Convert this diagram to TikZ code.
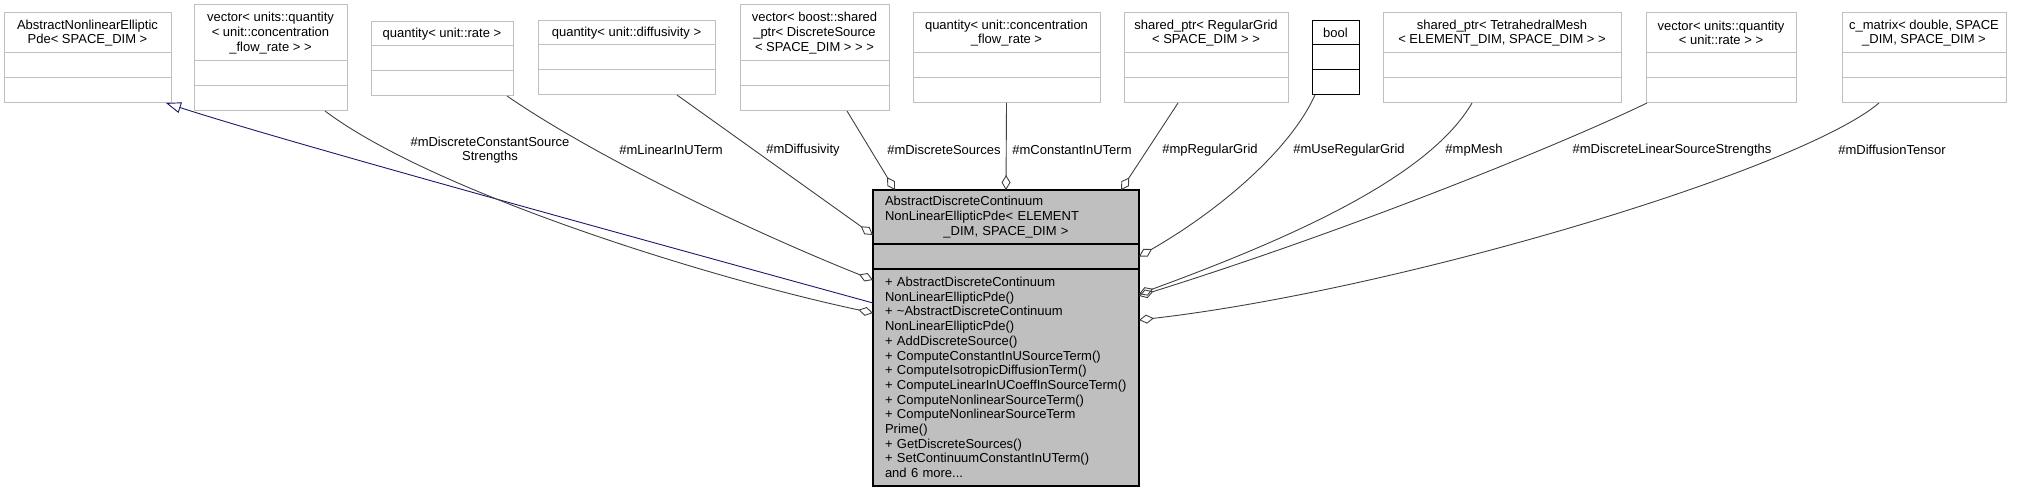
\documentclass[tikz,border=0pt]{standalone}
\usepackage{fontspec}
\setmainfont{Liberation Sans}
\usetikzlibrary{arrows.meta,positioning}
\definecolor{clsgray}{HTML}{BFBFBF}
\definecolor{mainfill}{HTML}{BFBFBF}
\definecolor{edgegray}{HTML}{404040}
\definecolor{inhblue}{HTML}{191970}
\newcommand{\classfont}{\fontsize{13}{14.7}\selectfont}
\tikzset{
  cls/.style={draw=clsgray, line width=1pt, fill=white, inner sep=0pt, outer sep=0pt,
    font=\classfont, align=center},
  mainbox/.style={cls, draw=black, line width=1.3pt, fill=mainfill},
  member/.style={draw=edgegray, line width=0.9pt,
    -{Diamond[open, length=15pt, width=9pt]}},
  inherit/.style={draw=inhblue, line width=0.9pt,
    -{Triangle[open, length=15pt, width=11pt]}},
  lbl/.style={font=\classfont, inner sep=0pt, align=center},
}
% class box: [style] name, x, y, width, title height, title
\newcommand{\classbox}[7][cls]{%
  \node[#1, anchor=north west, minimum width=#5pt, minimum height=#6pt] (#2) at (#3,#4) {#7};
  \node[#1, minimum width=#5pt, minimum height=25pt, below=0pt of #2] (#2a) {};
  \node[#1, minimum width=#5pt, minimum height=25pt, below=0pt of #2a] (#2b) {};
}

\begin{document}
\begin{tikzpicture}[x=1pt, y=-1pt]
  \useasboundingbox (0,0) rectangle (2027,492);
  % Membros
  \classbox{A}{4}{13}{167}{40}{AbstractNonlinearElliptic\\Pde< SPACE\_DIM >}
  \classbox{B}{194}{5}{153}{56}{vector< units::quantity\\< unit::concentration\\\_flow\_rate > >}
  \classbox{C}{371}{22}{142}{24}{quantity< unit::rate >}
  \classbox{D}{538}{21}{177}{24}{quantity< unit::diffusivity >}
  \classbox{E}{740}{5}{149}{56}{vector< boost::shared\\\_ptr< DiscreteSource\\< SPACE\_DIM > > >}
  \classbox{F}{913}{13}{187}{40}{quantity< unit::concentration\\\_flow\_rate >}
  \classbox{G}{1124}{13}{164}{40}{shared\_ptr< RegularGrid\\< SPACE\_DIM > >}
  \classbox[cls, draw=black]{H}{1312}{21}{47}{24}{bool}
  \classbox{I}{1383}{13}{238}{40}{shared\_ptr< TetrahedralMesh\\< ELEMENT\_DIM, SPACE\_DIM > >}
  \classbox{J}{1646}{13}{150}{40}{vector< units::quantity\\< unit::rate > >}
  \classbox{K}{1842}{13}{164}{40}{c\_matrix< double, SPACE\\\_DIM, SPACE\_DIM >}
  % Classe principal
  \node[mainbox, anchor=north west, text width=242pt, inner xsep=12pt, minimum height=54pt]
    (M) at (873,190) {\raggedright AbstractDiscreteContinuum\\NonLinearEllipticPde< ELEMENT\par
    \centering \_DIM, SPACE\_DIM >\par};
  \node[mainbox, minimum width=266pt, minimum height=25pt, below=0pt of M] (Ma) {};
  \node[mainbox, text width=242pt, inner xsep=12pt, minimum height=217pt, align=left,
    below=0pt of Ma] (Mb) {+ AbstractDiscreteContinuum\\NonLinearEllipticPde()\\
    + \textasciitilde AbstractDiscreteContinuum\\NonLinearEllipticPde()\\
    + AddDiscreteSource()\\+ ComputeConstantInUSourceTerm()\\
    + ComputeIsotropicDiffusionTerm()\\+ ComputeLinearInUCoeffInSourceTerm()\\
    + ComputeNonlinearSourceTerm()\\+ ComputeNonlinearSourceTerm\\Prime()\\
    + GetDiscreteSources()\\+ SetContinuumConstantInUTerm()\\and 6 more...};
  % Heranca
  \draw[inherit] ([yshift=74.5pt]Mb.west) .. controls (600,228) and (280,140) .. ([xshift=78.5pt]Ab.south);
  % Agregacoes
  \draw[member] ([xshift=54.5pt]Bb.south) .. controls (430,190) and (700,276) .. ([yshift=64.5pt]Mb.west);
  \draw[member] ([xshift=65pt]Cb.south) .. controls (600,160) and (760,235) .. ([yshift=97.5pt]Mb.west);
  \draw[member] ([xshift=50.5pt]Db.south) -- ([yshift=-18pt]M.west);
  \draw[member] ([xshift=32.5pt]Eb.south) -- ([xshift=-111pt]M.north);
  \draw[member] (Fb.south) -- (M.north);
  \draw[member] ([xshift=-28pt]Gb.south) -- ([xshift=115pt]M.north);
  \draw[member] ([xshift=3pt]Hb.south west) .. controls (1290,150) and (1220,210) .. (Ma.east);
  \draw[member] ([xshift=-30pt]Ib.south) .. controls (1430,175) and (1300,235) .. ([yshift=83.5pt]Mb.east);
  \draw[member] ([xshift=1pt]Jb.south west) .. controls (1560,145) and (1350,230) .. ([yshift=81.5pt]Mb.east);
  \draw[member] ([xshift=-45pt]Kb.south) .. controls (1800,170) and (1400,290) .. ([yshift=57.5pt]Mb.east);
  % Rotulos
  \node[lbl] (lConstSrc)    at (490,150)  {\#mDiscreteConstantSource\\Strengths};
  \node[lbl] (lLinear)      at (671,150)  {\#mLinearInUTerm};
  \node[lbl] (lDiffusivity) at (803,150)  {\#mDiffusivity};
  \node[lbl] (lSources)     at (944,150)  {\#mDiscreteSources};
  \node[lbl] (lConstant)    at (1072,150) {\#mConstantInUTerm};
  \node[lbl] (lGrid)        at (1210,150) {\#mpRegularGrid};
  \node[lbl] (lUseGrid)     at (1349,150) {\#mUseRegularGrid};
  \node[lbl] (lMesh)        at (1474,150) {\#mpMesh};
  \node[lbl] (lLinSrc)      at (1672,150) {\#mDiscreteLinearSourceStrengths};
  \node[lbl] (lTensor)      at (1892,150) {\#mDiffusionTensor};
\end{tikzpicture}
\end{document}
